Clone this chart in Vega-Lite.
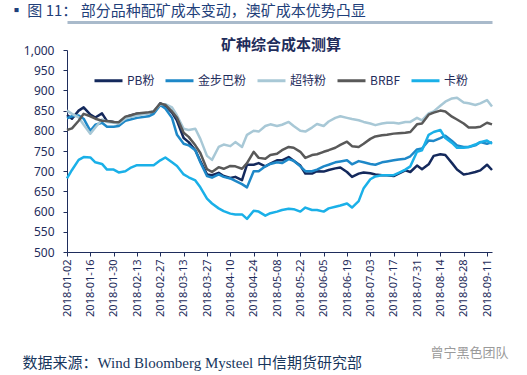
{
  "$schema": "https://vega.github.io/schema/vega-lite/v6.json",
  "width": 425,
  "height": 202,
  "autosize": "none",
  "padding": {"left": 67, "top": 50, "right": 35, "bottom": 123},
  "background": "white",
  "title": {
    "text": "▪ 图 11：   部分品种配矿成本变动，澳矿成本优势凸显",
    "anchor": "start",
    "frame": "group",
    "orient": "top",
    "dx": -58,
    "dy": 1,
    "offset": 4,
    "font": "Noto Sans CJK SC",
    "fontSize": 15,
    "fontWeight": "normal",
    "color": "#1F3F7A"
  },
  "config": {"view": {"stroke": null}},
  "data": {
    "values": [
      {"d":"2018-01-02","s":"PB粉","v":839},{"d":"2018-01-05","s":"PB粉","v":830},{"d":"2018-01-09","s":"PB粉","v":850},{"d":"2018-01-12","s":"PB粉","v":858},{"d":"2018-01-16","s":"PB粉","v":840},{"d":"2018-01-19","s":"PB粉","v":833},{"d":"2018-01-23","s":"PB粉","v":843},{"d":"2018-01-26","s":"PB粉","v":824},{"d":"2018-01-30","s":"PB粉","v":822},
      {"d":"2018-02-02","s":"PB粉","v":818},{"d":"2018-02-06","s":"PB粉","v":833},{"d":"2018-02-09","s":"PB粉","v":838},{"d":"2018-02-13","s":"PB粉","v":842},{"d":"2018-02-20","s":"PB粉","v":844},{"d":"2018-02-23","s":"PB粉","v":846},{"d":"2018-02-27","s":"PB粉","v":868},
      {"d":"2018-03-02","s":"PB粉","v":862},{"d":"2018-03-06","s":"PB粉","v":845},{"d":"2018-03-09","s":"PB粉","v":825},{"d":"2018-03-13","s":"PB粉","v":782},{"d":"2018-03-16","s":"PB粉","v":772},{"d":"2018-03-20","s":"PB粉","v":752},{"d":"2018-03-23","s":"PB粉","v":725},{"d":"2018-03-27","s":"PB粉","v":692},{"d":"2018-03-30","s":"PB粉","v":690},
      {"d":"2018-04-03","s":"PB粉","v":696},{"d":"2018-04-06","s":"PB粉","v":688},{"d":"2018-04-10","s":"PB粉","v":683},{"d":"2018-04-13","s":"PB粉","v":686},{"d":"2018-04-17","s":"PB粉","v":678},{"d":"2018-04-20","s":"PB粉","v":716},{"d":"2018-04-24","s":"PB粉","v":716},{"d":"2018-04-27","s":"PB粉","v":720},
      {"d":"2018-05-01","s":"PB粉","v":712},{"d":"2018-05-04","s":"PB粉","v":719},{"d":"2018-05-08","s":"PB粉","v":727},{"d":"2018-05-11","s":"PB粉","v":727},{"d":"2018-05-15","s":"PB粉","v":735},{"d":"2018-05-18","s":"PB粉","v":726},{"d":"2018-05-22","s":"PB粉","v":714},{"d":"2018-05-25","s":"PB粉","v":694},{"d":"2018-05-29","s":"PB粉","v":694},
      {"d":"2018-06-01","s":"PB粉","v":700},{"d":"2018-06-05","s":"PB粉","v":699},{"d":"2018-06-08","s":"PB粉","v":703},{"d":"2018-06-12","s":"PB粉","v":707},{"d":"2018-06-15","s":"PB粉","v":709},{"d":"2018-06-19","s":"PB粉","v":698},{"d":"2018-06-22","s":"PB粉","v":686},{"d":"2018-06-26","s":"PB粉","v":694},{"d":"2018-06-29","s":"PB粉","v":697},
      {"d":"2018-07-03","s":"PB粉","v":695},{"d":"2018-07-06","s":"PB粉","v":692},{"d":"2018-07-10","s":"PB粉","v":690},{"d":"2018-07-13","s":"PB粉","v":690},{"d":"2018-07-17","s":"PB粉","v":688},{"d":"2018-07-20","s":"PB粉","v":694},{"d":"2018-07-24","s":"PB粉","v":702},{"d":"2018-07-27","s":"PB粉","v":698},{"d":"2018-07-31","s":"PB粉","v":714},
      {"d":"2018-08-03","s":"PB粉","v":705},{"d":"2018-08-07","s":"PB粉","v":717},{"d":"2018-08-10","s":"PB粉","v":738},{"d":"2018-08-14","s":"PB粉","v":742},{"d":"2018-08-17","s":"PB粉","v":740},{"d":"2018-08-21","s":"PB粉","v":720},{"d":"2018-08-24","s":"PB粉","v":704},{"d":"2018-08-28","s":"PB粉","v":692},{"d":"2018-08-31","s":"PB粉","v":694},
      {"d":"2018-09-04","s":"PB粉","v":698},{"d":"2018-09-07","s":"PB粉","v":702},{"d":"2018-09-11","s":"PB粉","v":716},{"d":"2018-09-14","s":"PB粉","v":703},

      {"d":"2018-01-02","s":"金步巴粉","v":831},{"d":"2018-01-05","s":"金步巴粉","v":836},{"d":"2018-01-09","s":"金步巴粉","v":838},{"d":"2018-01-12","s":"金步巴粉","v":830},{"d":"2018-01-16","s":"金步巴粉","v":800},{"d":"2018-01-19","s":"金步巴粉","v":815},{"d":"2018-01-23","s":"金步巴粉","v":820},{"d":"2018-01-26","s":"金步巴粉","v":810},{"d":"2018-01-30","s":"金步巴粉","v":810},
      {"d":"2018-02-02","s":"金步巴粉","v":812},{"d":"2018-02-06","s":"金步巴粉","v":825},{"d":"2018-02-09","s":"金步巴粉","v":828},{"d":"2018-02-13","s":"金步巴粉","v":832},{"d":"2018-02-20","s":"金步巴粉","v":836},{"d":"2018-02-23","s":"金步巴粉","v":842},{"d":"2018-02-27","s":"金步巴粉","v":864},
      {"d":"2018-03-02","s":"金步巴粉","v":855},{"d":"2018-03-06","s":"金步巴粉","v":832},{"d":"2018-03-09","s":"金步巴粉","v":790},{"d":"2018-03-13","s":"金步巴粉","v":768},{"d":"2018-03-16","s":"金步巴粉","v":764},{"d":"2018-03-20","s":"金步巴粉","v":752},{"d":"2018-03-23","s":"金步巴粉","v":722},{"d":"2018-03-27","s":"金步巴粉","v":688},{"d":"2018-03-30","s":"金步巴粉","v":684},
      {"d":"2018-04-03","s":"金步巴粉","v":692},{"d":"2018-04-06","s":"金步巴粉","v":686},{"d":"2018-04-10","s":"金步巴粉","v":682},{"d":"2018-04-13","s":"金步巴粉","v":676},{"d":"2018-04-17","s":"金步巴粉","v":668},{"d":"2018-04-20","s":"金步巴粉","v":660},{"d":"2018-04-24","s":"金步巴粉","v":700},{"d":"2018-04-27","s":"金步巴粉","v":700},
      {"d":"2018-05-01","s":"金步巴粉","v":712},{"d":"2018-05-04","s":"金步巴粉","v":718},{"d":"2018-05-08","s":"金步巴粉","v":722},{"d":"2018-05-11","s":"金步巴粉","v":720},{"d":"2018-05-15","s":"金步巴粉","v":730},{"d":"2018-05-18","s":"金步巴粉","v":726},{"d":"2018-05-22","s":"金步巴粉","v":712},{"d":"2018-05-25","s":"金步巴粉","v":700},{"d":"2018-05-29","s":"金步巴粉","v":700},
      {"d":"2018-06-01","s":"金步巴粉","v":704},{"d":"2018-06-05","s":"金步巴粉","v":712},{"d":"2018-06-08","s":"金步巴粉","v":716},{"d":"2018-06-12","s":"金步巴粉","v":722},{"d":"2018-06-15","s":"金步巴粉","v":724},{"d":"2018-06-19","s":"金步巴粉","v":727},{"d":"2018-06-22","s":"金步巴粉","v":717},{"d":"2018-06-26","s":"金步巴粉","v":725},{"d":"2018-06-29","s":"金步巴粉","v":722},
      {"d":"2018-07-03","s":"金步巴粉","v":718},{"d":"2018-07-06","s":"金步巴粉","v":716},{"d":"2018-07-10","s":"金步巴粉","v":722},{"d":"2018-07-13","s":"金步巴粉","v":724},{"d":"2018-07-17","s":"金步巴粉","v":727},{"d":"2018-07-20","s":"金步巴粉","v":729},{"d":"2018-07-24","s":"金步巴粉","v":731},{"d":"2018-07-27","s":"金步巴粉","v":737},{"d":"2018-07-31","s":"金步巴粉","v":754},
      {"d":"2018-08-03","s":"金步巴粉","v":756},{"d":"2018-08-07","s":"金步巴粉","v":776},{"d":"2018-08-10","s":"金步巴粉","v":775},{"d":"2018-08-14","s":"金步巴粉","v":782},{"d":"2018-08-17","s":"金步巴粉","v":788},{"d":"2018-08-21","s":"金步巴粉","v":775},{"d":"2018-08-24","s":"金步巴粉","v":764},{"d":"2018-08-28","s":"金步巴粉","v":760},{"d":"2018-08-31","s":"金步巴粉","v":760},
      {"d":"2018-09-04","s":"金步巴粉","v":764},{"d":"2018-09-07","s":"金步巴粉","v":772},{"d":"2018-09-11","s":"金步巴粉","v":768},{"d":"2018-09-14","s":"金步巴粉","v":772},

      {"d":"2018-01-02","s":"超特粉","v":850},{"d":"2018-01-05","s":"超特粉","v":842},{"d":"2018-01-09","s":"超特粉","v":833},{"d":"2018-01-12","s":"超特粉","v":815},{"d":"2018-01-16","s":"超特粉","v":793},{"d":"2018-01-19","s":"超特粉","v":808},{"d":"2018-01-23","s":"超特粉","v":828},{"d":"2018-01-26","s":"超特粉","v":822},{"d":"2018-01-30","s":"超特粉","v":820},
      {"d":"2018-02-02","s":"超特粉","v":818},{"d":"2018-02-06","s":"超特粉","v":830},{"d":"2018-02-09","s":"超特粉","v":834},{"d":"2018-02-13","s":"超特粉","v":838},{"d":"2018-02-20","s":"超特粉","v":844},{"d":"2018-02-23","s":"超特粉","v":848},{"d":"2018-02-27","s":"超特粉","v":866},
      {"d":"2018-03-02","s":"超特粉","v":866},{"d":"2018-03-06","s":"超特粉","v":858},{"d":"2018-03-09","s":"超特粉","v":838},{"d":"2018-03-13","s":"超特粉","v":805},{"d":"2018-03-16","s":"超特粉","v":802},{"d":"2018-03-20","s":"超特粉","v":805},{"d":"2018-03-23","s":"超特粉","v":780},{"d":"2018-03-27","s":"超特粉","v":738},{"d":"2018-03-30","s":"超特粉","v":728},
      {"d":"2018-04-03","s":"超特粉","v":760},{"d":"2018-04-06","s":"超特粉","v":766},{"d":"2018-04-10","s":"超特粉","v":762},{"d":"2018-04-13","s":"超特粉","v":772},{"d":"2018-04-17","s":"超特粉","v":760},{"d":"2018-04-20","s":"超特粉","v":790},{"d":"2018-04-24","s":"超特粉","v":800},{"d":"2018-04-27","s":"超特粉","v":798},
      {"d":"2018-05-01","s":"超特粉","v":812},{"d":"2018-05-04","s":"超特粉","v":816},{"d":"2018-05-08","s":"超特粉","v":812},{"d":"2018-05-11","s":"超特粉","v":815},{"d":"2018-05-15","s":"超特粉","v":822},{"d":"2018-05-18","s":"超特粉","v":812},{"d":"2018-05-22","s":"超特粉","v":800},{"d":"2018-05-25","s":"超特粉","v":798},{"d":"2018-05-29","s":"超特粉","v":808},
      {"d":"2018-06-01","s":"超特粉","v":817},{"d":"2018-06-05","s":"超特粉","v":812},{"d":"2018-06-08","s":"超特粉","v":823},{"d":"2018-06-12","s":"超特粉","v":832},{"d":"2018-06-15","s":"超特粉","v":836},{"d":"2018-06-19","s":"超特粉","v":832},{"d":"2018-06-22","s":"超特粉","v":829},{"d":"2018-06-26","s":"超特粉","v":826},{"d":"2018-06-29","s":"超特粉","v":822},
      {"d":"2018-07-03","s":"超特粉","v":818},{"d":"2018-07-06","s":"超特粉","v":814},{"d":"2018-07-10","s":"超特粉","v":818},{"d":"2018-07-13","s":"超特粉","v":820},{"d":"2018-07-17","s":"超特粉","v":820},{"d":"2018-07-20","s":"超特粉","v":818},{"d":"2018-07-24","s":"超特粉","v":822},{"d":"2018-07-27","s":"超特粉","v":822},{"d":"2018-07-31","s":"超特粉","v":832},
      {"d":"2018-08-03","s":"超特粉","v":826},{"d":"2018-08-07","s":"超特粉","v":843},{"d":"2018-08-10","s":"超特粉","v":848},{"d":"2018-08-14","s":"超特粉","v":862},{"d":"2018-08-17","s":"超特粉","v":872},{"d":"2018-08-21","s":"超特粉","v":880},{"d":"2018-08-24","s":"超特粉","v":882},{"d":"2018-08-28","s":"超特粉","v":870},{"d":"2018-08-31","s":"超特粉","v":868},
      {"d":"2018-09-04","s":"超特粉","v":864},{"d":"2018-09-07","s":"超特粉","v":868},{"d":"2018-09-11","s":"超特粉","v":876},{"d":"2018-09-14","s":"超特粉","v":860},

      {"d":"2018-01-02","s":"BRBF","v":802},{"d":"2018-01-05","s":"BRBF","v":806},{"d":"2018-01-09","s":"BRBF","v":825},{"d":"2018-01-12","s":"BRBF","v":842},{"d":"2018-01-16","s":"BRBF","v":836},{"d":"2018-01-19","s":"BRBF","v":830},{"d":"2018-01-23","s":"BRBF","v":825},{"d":"2018-01-26","s":"BRBF","v":824},{"d":"2018-01-30","s":"BRBF","v":822},
      {"d":"2018-02-02","s":"BRBF","v":821},{"d":"2018-02-06","s":"BRBF","v":835},{"d":"2018-02-09","s":"BRBF","v":838},{"d":"2018-02-13","s":"BRBF","v":843},{"d":"2018-02-20","s":"BRBF","v":846},{"d":"2018-02-23","s":"BRBF","v":848},{"d":"2018-02-27","s":"BRBF","v":868},
      {"d":"2018-03-02","s":"BRBF","v":864},{"d":"2018-03-06","s":"BRBF","v":848},{"d":"2018-03-09","s":"BRBF","v":832},{"d":"2018-03-13","s":"BRBF","v":795},{"d":"2018-03-16","s":"BRBF","v":785},{"d":"2018-03-20","s":"BRBF","v":764},{"d":"2018-03-23","s":"BRBF","v":745},{"d":"2018-03-27","s":"BRBF","v":705},{"d":"2018-03-30","s":"BRBF","v":698},
      {"d":"2018-04-03","s":"BRBF","v":710},{"d":"2018-04-06","s":"BRBF","v":706},{"d":"2018-04-10","s":"BRBF","v":713},{"d":"2018-04-13","s":"BRBF","v":712},{"d":"2018-04-17","s":"BRBF","v":706},{"d":"2018-04-20","s":"BRBF","v":720},{"d":"2018-04-24","s":"BRBF","v":748},{"d":"2018-04-27","s":"BRBF","v":733},
      {"d":"2018-05-01","s":"BRBF","v":731},{"d":"2018-05-04","s":"BRBF","v":740},{"d":"2018-05-08","s":"BRBF","v":743},{"d":"2018-05-11","s":"BRBF","v":752},{"d":"2018-05-15","s":"BRBF","v":760},{"d":"2018-05-18","s":"BRBF","v":758},{"d":"2018-05-22","s":"BRBF","v":748},{"d":"2018-05-25","s":"BRBF","v":733},{"d":"2018-05-29","s":"BRBF","v":740},
      {"d":"2018-06-01","s":"BRBF","v":742},{"d":"2018-06-05","s":"BRBF","v":748},{"d":"2018-06-08","s":"BRBF","v":752},{"d":"2018-06-12","s":"BRBF","v":758},{"d":"2018-06-15","s":"BRBF","v":765},{"d":"2018-06-19","s":"BRBF","v":773},{"d":"2018-06-22","s":"BRBF","v":762},{"d":"2018-06-26","s":"BRBF","v":760},{"d":"2018-06-29","s":"BRBF","v":768},
      {"d":"2018-07-03","s":"BRBF","v":780},{"d":"2018-07-06","s":"BRBF","v":786},{"d":"2018-07-10","s":"BRBF","v":789},{"d":"2018-07-13","s":"BRBF","v":790},{"d":"2018-07-17","s":"BRBF","v":793},{"d":"2018-07-20","s":"BRBF","v":794},{"d":"2018-07-24","s":"BRBF","v":795},{"d":"2018-07-27","s":"BRBF","v":797},{"d":"2018-07-31","s":"BRBF","v":816},
      {"d":"2018-08-03","s":"BRBF","v":818},{"d":"2018-08-07","s":"BRBF","v":840},{"d":"2018-08-10","s":"BRBF","v":845},{"d":"2018-08-14","s":"BRBF","v":850},{"d":"2018-08-17","s":"BRBF","v":848},{"d":"2018-08-21","s":"BRBF","v":835},{"d":"2018-08-24","s":"BRBF","v":828},{"d":"2018-08-28","s":"BRBF","v":818},{"d":"2018-08-31","s":"BRBF","v":808},
      {"d":"2018-09-04","s":"BRBF","v":808},{"d":"2018-09-07","s":"BRBF","v":810},{"d":"2018-09-11","s":"BRBF","v":820},{"d":"2018-09-14","s":"BRBF","v":816},

      {"d":"2018-01-02","s":"卡粉","v":682},{"d":"2018-01-05","s":"卡粉","v":703},{"d":"2018-01-09","s":"卡粉","v":728},{"d":"2018-01-12","s":"卡粉","v":735},{"d":"2018-01-16","s":"卡粉","v":734},{"d":"2018-01-19","s":"卡粉","v":722},{"d":"2018-01-23","s":"卡粉","v":718},{"d":"2018-01-26","s":"卡粉","v":704},{"d":"2018-01-30","s":"卡粉","v":704},
      {"d":"2018-02-02","s":"卡粉","v":697},{"d":"2018-02-06","s":"卡粉","v":700},{"d":"2018-02-09","s":"卡粉","v":708},{"d":"2018-02-13","s":"卡粉","v":715},{"d":"2018-02-20","s":"卡粉","v":715},{"d":"2018-02-23","s":"卡粉","v":715},{"d":"2018-02-27","s":"卡粉","v":727},
      {"d":"2018-03-02","s":"卡粉","v":734},{"d":"2018-03-06","s":"卡粉","v":722},{"d":"2018-03-09","s":"卡粉","v":713},{"d":"2018-03-13","s":"卡粉","v":692},{"d":"2018-03-16","s":"卡粉","v":685},{"d":"2018-03-20","s":"卡粉","v":677},{"d":"2018-03-23","s":"卡粉","v":660},{"d":"2018-03-27","s":"卡粉","v":632},{"d":"2018-03-30","s":"卡粉","v":620},
      {"d":"2018-04-03","s":"卡粉","v":608},{"d":"2018-04-06","s":"卡粉","v":601},{"d":"2018-04-10","s":"卡粉","v":595},{"d":"2018-04-13","s":"卡粉","v":593},{"d":"2018-04-17","s":"卡粉","v":593},{"d":"2018-04-20","s":"卡粉","v":582},{"d":"2018-04-24","s":"卡粉","v":602},{"d":"2018-04-27","s":"卡粉","v":600},
      {"d":"2018-05-01","s":"卡粉","v":590},{"d":"2018-05-04","s":"卡粉","v":596},{"d":"2018-05-08","s":"卡粉","v":600},{"d":"2018-05-11","s":"卡粉","v":604},{"d":"2018-05-15","s":"卡粉","v":607},{"d":"2018-05-18","s":"卡粉","v":606},{"d":"2018-05-22","s":"卡粉","v":600},{"d":"2018-05-25","s":"卡粉","v":610},{"d":"2018-05-29","s":"卡粉","v":604},
      {"d":"2018-06-01","s":"卡粉","v":604},{"d":"2018-06-05","s":"卡粉","v":600},{"d":"2018-06-08","s":"卡粉","v":608},{"d":"2018-06-12","s":"卡粉","v":612},{"d":"2018-06-15","s":"卡粉","v":615},{"d":"2018-06-19","s":"卡粉","v":620},{"d":"2018-06-22","s":"卡粉","v":610},{"d":"2018-06-26","s":"卡粉","v":626},{"d":"2018-06-29","s":"卡粉","v":658},
      {"d":"2018-07-03","s":"卡粉","v":680},{"d":"2018-07-06","s":"卡粉","v":687},{"d":"2018-07-10","s":"卡粉","v":690},{"d":"2018-07-13","s":"卡粉","v":690},{"d":"2018-07-17","s":"卡粉","v":690},{"d":"2018-07-20","s":"卡粉","v":696},{"d":"2018-07-24","s":"卡粉","v":704},{"d":"2018-07-27","s":"卡粉","v":712},{"d":"2018-07-31","s":"卡粉","v":748},
      {"d":"2018-08-03","s":"卡粉","v":752},{"d":"2018-08-07","s":"卡粉","v":790},{"d":"2018-08-10","s":"卡粉","v":797},{"d":"2018-08-14","s":"卡粉","v":802},{"d":"2018-08-17","s":"卡粉","v":782},{"d":"2018-08-21","s":"卡粉","v":770},{"d":"2018-08-24","s":"卡粉","v":758},{"d":"2018-08-28","s":"卡粉","v":758},{"d":"2018-08-31","s":"卡粉","v":760},
      {"d":"2018-09-04","s":"卡粉","v":766},{"d":"2018-09-07","s":"卡粉","v":772},{"d":"2018-09-11","s":"卡粉","v":776},{"d":"2018-09-14","s":"卡粉","v":768}
    ]
  },
  "encoding": {
    "y": {
      "field": "v", "type": "quantitative",
      "scale": {"domain": [500, 1000], "nice": false, "zero": false},
      "axis": {
        "values": [500, 550, 600, 650, 700, 750, 800, 850, 900, 950, 1000],
        "format": ",d",
        "labelFont": "Noto Sans",
        "labelFontSize": 12,
        "labelColor": "#1F2D5C",
        "labelPadding": 9,
        "tickSize": 4,
        "tickColor": "#1F2D5C",
        "domainColor": "#1F2D5C",
        "grid": false,
        "title": "曾宁黑色团队",
        "titleAngle": 0,
        "titleX": 363,
        "titleY": 302,
        "titleAlign": "left",
        "titleBaseline": "middle",
        "titleFont": "Noto Sans CJK SC",
        "titleFontSize": 13,
        "titleFontWeight": "normal",
        "titleColor": "#9A9A9A"
      }
    },
    "color": {
      "field": "s", "type": "nominal",
      "scale": {
        "domain": ["PB粉", "金步巴粉", "超特粉", "BRBF", "卡粉"],
        "range": ["#14295C", "#1E88C8", "#A8C8D6", "#595959", "#1AB0E8"]
      },
      "legend": {
        "orient": "none",
        "legendX": 26,
        "legendY": -12,
        "direction": "horizontal",
        "columns": 5,
        "padding": 0,
        "title": "矿种综合成本测算",
        "titleOrient": "top",
        "titleAnchor": "middle",
        "titleFont": "Noto Sans CJK SC",
        "titleFontSize": 15,
        "titleFontWeight": "bold",
        "titleColor": "#1F2D5C",
        "titlePadding": 12,
        "symbolType": "stroke",
        "symbolSize": 784,
        "symbolStrokeWidth": 3,
        "labelFont": "Noto Sans CJK SC",
        "labelFontSize": 12,
        "labelColor": "#1F2D5C",
        "labelOffset": 3,
        "columnPadding": 4
      }
    }
  },
  "layer": [
    {
      "mark": {"type": "line", "strokeWidth": 2.5, "strokeJoin": "round", "clip": false},
      "encoding": {
        "x": {
          "field": "d", "type": "temporal", "timeUnit": "utcyearmonthdate",
          "scale": {"domain": [{"year": 2018, "month": 1, "date": 2, "utc": true}, {"year": 2018, "month": 9, "date": 14, "utc": true}]},
          "axis": {
            "orient": "bottom",
            "values": [
              {"year":2018,"month":1,"date":2,"utc":true},{"year":2018,"month":1,"date":16,"utc":true},{"year":2018,"month":1,"date":30,"utc":true},
              {"year":2018,"month":2,"date":13,"utc":true},{"year":2018,"month":2,"date":27,"utc":true},{"year":2018,"month":3,"date":13,"utc":true},
              {"year":2018,"month":3,"date":27,"utc":true},{"year":2018,"month":4,"date":10,"utc":true},{"year":2018,"month":4,"date":24,"utc":true},
              {"year":2018,"month":5,"date":8,"utc":true},{"year":2018,"month":5,"date":22,"utc":true},{"year":2018,"month":6,"date":5,"utc":true},
              {"year":2018,"month":6,"date":19,"utc":true},{"year":2018,"month":7,"date":3,"utc":true},{"year":2018,"month":7,"date":17,"utc":true},
              {"year":2018,"month":7,"date":31,"utc":true},{"year":2018,"month":8,"date":14,"utc":true},{"year":2018,"month":8,"date":28,"utc":true},
              {"year":2018,"month":9,"date":11,"utc":true}
            ],
            "format": "%Y-%m-%d",
            "labelAngle": 270,
            "labelAlign": "right",
            "labelBaseline": "middle",
            "labelFont": "Noto Sans",
            "labelFontSize": 11,
            "labelColor": "#1F2D5C",
            "labelPadding": 3,
            "labelOverlap": false,
            "labelFlush": false,
            "tickSize": 4,
            "tickColor": "#1F2D5C",
            "domainColor": "#1F2D5C",
            "grid": false,
            "title": "数据来源：Wind Bloomberg Mysteel 中信期货研究部",
            "titleFont": "Liberation Serif, Noto Sans CJK SC",
            "titleFontSize": 15,
            "titleFontWeight": "normal",
            "titleColor": "#17365D",
            "titleX": -45,
            "titleY": 110,
            "titleAlign": "left",
            "titleAnchor": "start",
            "titleBaseline": "middle"
          }
        }
      }
    },
    {
      "mark": {"type": "line", "opacity": 0},
      "encoding": {
        "x": {
          "field": "d", "type": "temporal", "timeUnit": "utcyearmonthdate",
          "axis": {"orient": "top", "labels": false, "ticks": false, "title": null, "grid": false, "domain": true, "domainColor": "#A9BACB", "domainWidth": 3, "offset": 28}
        }
      }
    }
  ],
  "resolve": {"axis": {"x": "independent"}}
}
